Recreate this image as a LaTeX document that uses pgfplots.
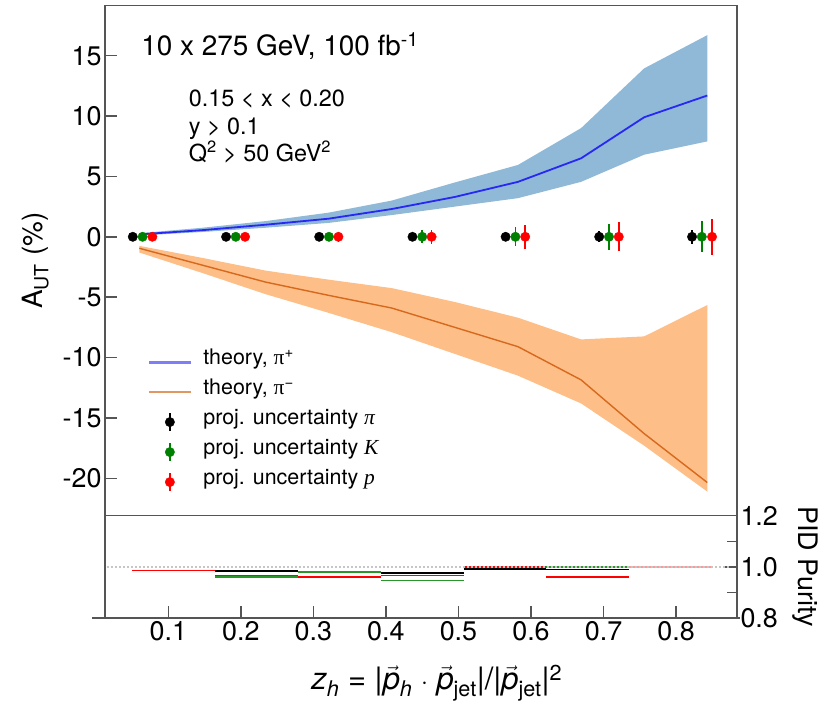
\documentclass[border=0pt]{standalone}
\usepackage{fontspec}
\setmainfont{TeX Gyre Heros}
\newfontfamily\tnr{Liberation Serif}
\usepackage{pgfplots}
\pgfplotsset{compat=1.18}
\usepgfplotslibrary{fillbetween}
\usepackage{pgfplotstable}

\definecolor{bandblue}{RGB}{143,185,215}
\definecolor{bandorange}{RGB}{253,190,135}
\definecolor{lineblue}{RGB}{40,40,245}
\definecolor{lineorange}{RGB}{215,105,30}
\definecolor{framec}{RGB}{85,85,85}
\definecolor{dgreen}{RGB}{0,128,0}
\definecolor{lgreen}{RGB}{40,150,40}

\newcommand\fs[1]{\fontsize{#1}{#1}\selectfont}
\newcommand\vp{$\vec{\mbox{\itshape p}}$}

\pgfplotstableread{
x      bl     bu     bd     ol      ou     od
0.060  0.20   0.30   0.10   -0.95   -0.75  -1.30
0.147  0.55   0.75   0.40   -2.35   -1.75  -3.00
0.234  1.00   1.30   0.75   -3.75   -2.80  -4.75
0.321  1.50   2.00   1.15   -4.85   -3.55  -6.30
0.408  2.30   3.00   1.80   -5.90   -4.25  -7.90
0.495  3.30   4.50   2.50   -7.50   -5.40  -9.70
0.582  4.55   5.95   3.20   -9.10   -6.70  -11.50
0.669  6.50   9.00   4.55   -11.85  -8.50  -13.80
0.756  9.90   13.95  6.80   -16.30  -8.25  -17.30
0.843  11.70  16.70  7.90   -20.35  -5.65  -21.10
}\theory

\pgfplotstableread{
x       y   e
0.0510  0   0.25
0.1796  0   0.25
0.3080  0   0.25
0.4366  0   0.30
0.5650  0   0.35
0.6940  0   0.45
0.8220  0   0.60
}\ptpi

\pgfplotstableread{
x       y   e
0.0645  0   0.25
0.1930  0   0.30
0.3215  0   0.35
0.4500  0   0.55
0.5785  0   0.80
0.7075  0   1.10
0.8355  0   1.30
}\ptk

\pgfplotstableread{
x       y   e
0.0780  0   0.25
0.2058  0   0.30
0.3345  0   0.40
0.4630  0   0.60
0.5920  0   1.00
0.7210  0   1.20
0.8496  0   1.50
}\ptp

\begin{document}
\begin{tikzpicture}
\begin{axis}[
  at={(105bp,-515.7bp)}, anchor=south west,
  scale only axis, width=632bp, height=510bp,
  xmin=0.0127, xmax=0.884, ymin=-23.1, ymax=19.14,
  xtick=\empty,
  ytick={-20,-15,-10,-5,0,5,10,15},
  ytick pos=left, tick align=inside, major tick length=12bp,
  axis line style={framec, line width=1.5bp},
  every tick/.style={framec, line width=1.5bp},
  yticklabel style={font=\fs{27}},
  /pgf/number format/assume math mode=true,
  ylabel={A\textsubscript{UT} (\%)},
  every axis y label/.style={at={(axis description cs:-0.11,0.5)}, anchor=center, rotate=90, font=\fs{28}},
  legend style={at={(axis description cs:0.062,0.33)}, anchor=north west,
     draw=none, fill=none, font=\fs{21.5}, row sep=5bp, column sep=11bp,
     nodes={inner sep=0bp, text height=15bp, text depth=10bp}},
  legend cell align=left,
  clip=false,
]
% bands
\addplot[name path=bu, draw=none, forget plot] table[x=x,y=bu]{\theory};
\addplot[name path=bd, draw=none, forget plot] table[x=x,y=bd]{\theory};
\addplot[bandblue, draw=none, forget plot] fill between[of=bu and bd];
\addplot[name path=ou, draw=none, forget plot] table[x=x,y=ou]{\theory};
\addplot[name path=od, draw=none, forget plot] table[x=x,y=od]{\theory};
\addplot[bandorange, draw=none, forget plot] fill between[of=ou and od];
% lines
\addplot[lineblue, line width=1.8bp,
  legend image code/.code={\draw[lineblue!60, line width=3bp] (0bp,0bp) -- (42bp,0bp);}]
  table[x=x,y=bl]{\theory};
\addlegendentry{theory, {\tnr π}\textsuperscript{+}}
\addplot[lineorange, line width=1.4bp,
  legend image code/.code={\draw[lineorange!70, line width=2.6bp] (0bp,0bp) -- (42bp,0bp);}]
  table[x=x,y=ol]{\theory};
\addlegendentry{theory, {\tnr π}\textsuperscript{−}}
% projected points
\addplot[black, only marks, mark=*, mark size=4.7bp,
  legend image code/.code={\draw[overlay, black, line width=1.6bp] (21bp,-9bp) -- (21bp,9bp); \fill[overlay, black] (21bp,0bp) circle (4.7bp); \path[draw=none, fill=none] (0bp,0bp) -- (42bp,0bp);},
  error bars/.cd, y dir=both, y explicit, error mark=none,
  error bar style={line width=1.6bp}]
  table[x=x,y=y,y error=e]{\ptpi};
\addlegendentry{proj. uncertainty {\tnr\itshape π}}
\addplot[dgreen, only marks, mark=*, mark size=4.7bp,
  legend image code/.code={\draw[overlay, dgreen, line width=1.6bp] (21bp,-9bp) -- (21bp,9bp); \fill[overlay, dgreen] (21bp,0bp) circle (4.7bp); \path[draw=none, fill=none] (0bp,0bp) -- (42bp,0bp);},
  error bars/.cd, y dir=both, y explicit, error mark=none,
  error bar style={line width=1.6bp}]
  table[x=x,y=y,y error=e]{\ptk};
\addlegendentry{proj. uncertainty {\tnr\itshape K}}
\addplot[red, only marks, mark=*, mark size=4.7bp,
  legend image code/.code={\draw[overlay, red, line width=1.6bp] (21bp,-9bp) -- (21bp,9bp); \fill[overlay, red] (21bp,0bp) circle (4.7bp); \path[draw=none, fill=none] (0bp,0bp) -- (42bp,0bp);},
  error bars/.cd, y dir=both, y explicit, error mark=none,
  error bar style={line width=1.6bp}]
  table[x=x,y=y,y error=e]{\ptp};
\addlegendentry{proj. uncertainty {\tnr\itshape p}}
% texts
\node[anchor=base west, font=\fs{28}] at (axis description cs:0.052,0.903) {10 x 275 GeV, 100 fb\textsuperscript{-1}};
\node[anchor=base west, font=\fs{23.5}] at (axis description cs:0.127,0.802) {0.15 < x < 0.20};
\node[anchor=base west, font=\fs{23.5}] at (axis description cs:0.127,0.748) {y > 0.1};
\node[anchor=base west, font=\fs{23.5}] at (axis description cs:0.127,0.694) {Q\textsuperscript{2} > 50 GeV\textsuperscript{2}};
\end{axis}

\begin{axis}[
  at={(105bp,-515.7bp)}, anchor=north west,
  scale only axis, width=632bp, height=102.3bp,
  xmin=0.0127, xmax=0.884, ymin=0.8, ymax=1.2,
  xtick={0.1,0.2,0.3,0.4,0.5,0.6,0.7,0.8},
  xticklabels={0.1,0.2,0.3,0.4,0.5,0.6,0.7,0.8},
  ytick={0.8,1.0,1.2}, yticklabels={0.8,1.0,1.2},
  minor ytick={0.9,1.1},
  xtick pos=bottom, ytick pos=right, yticklabel pos=right,
  tick align=inside, major tick length=12bp, minor tick length=10bp,
  axis line style={framec, line width=1.5bp},
  every tick/.style={framec, line width=1.5bp},
  every minor tick/.style={framec, line width=1.5bp},
  xticklabel style={font=\fs{27}},
  yticklabel style={font=\fs{27}},
  ylabel={PID Purity},
  every axis y label/.style={at={(axis description cs:1.108,0.5)}, anchor=center, rotate=-90, font=\fs{27}},
  xlabel={\textit{z}\textsubscript{\textit{h}} = |\vp\textsubscript{\textit{h}} $\cdot$ \vp\textsubscript{jet}|/|\vp\textsubscript{jet}|\textsuperscript{2}},
  every axis x label/.style={at={(axis description cs:0.525,-0.635)}, anchor=center, font=\fs{31}},
  clip=false,
  every axis plot/.append style={line width=1.5bp},
]
% green
\addplot[lgreen] coordinates {(0.165,0.961) (0.279,0.961)};
\addplot[lgreen] coordinates {(0.279,0.979) (0.393,0.979)};
\addplot[lgreen] coordinates {(0.393,0.946) (0.507,0.946)};
\addplot[lgreen] coordinates {(0.621,1.0) (0.735,1.0)};
% black
\addplot[black] coordinates {(0.165,0.983) (0.279,0.983)};
\addplot[black] coordinates {(0.393,0.976) (0.507,0.976)};
\addplot[black] coordinates {(0.507,0.992) (0.621,0.992)};
\addplot[black] coordinates {(0.621,0.990) (0.735,0.990)};
% red
\addplot[red] coordinates {(0.05,0.985) (0.165,0.985)};
\addplot[red] coordinates {(0.165,0.967) (0.279,0.967)};
\addplot[red] coordinates {(0.279,0.961) (0.393,0.961)};
\addplot[red] coordinates {(0.393,0.967) (0.507,0.967)};
\addplot[red] coordinates {(0.507,1.0) (0.621,1.0)};
\addplot[red] coordinates {(0.621,0.961) (0.735,0.961)};
\addplot[red!40] coordinates {(0.735,1.0) (0.85,1.0)};
% reference line
\addplot[gray!45, dash pattern=on 2bp off 2bp] coordinates {(0.015,1.0) (0.875,1.0)};
\draw[framec, line width=1.5bp] (rel axis cs:-0.02,0) -- (rel axis cs:1.005,0);
\end{axis}
\pgfresetboundingbox
\path[use as bounding box] (0,0) rectangle (823bp,-705bp);
\end{tikzpicture}
\end{document}
